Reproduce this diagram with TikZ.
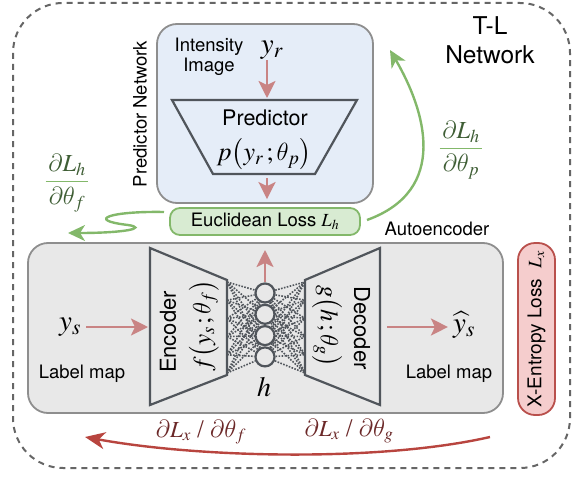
\documentclass[tikz,border=0pt]{standalone}
\usepackage{amsmath}
\usepackage{mathptmx}
\usepackage[no-math]{fontspec}
\setmainfont{TeX Gyre Heros}
\usepackage{xcolor}
\usetikzlibrary{arrows.meta}
\DeclareSymbolFont{cmletters}{OML}{cmm}{m}{it}
\DeclareMathSymbol{\itheta}{\mathord}{cmletters}{"12}
\DeclareMathSymbol{\ipartial}{\mathord}{cmletters}{"40}
\definecolor{predfill}{HTML}{E5EDF8}
\definecolor{boxline}{HTML}{8E8E8E}
\definecolor{trapline}{HTML}{50555B}
\definecolor{fwdarrow}{HTML}{C98484}
\definecolor{lossgreen}{HTML}{83B86A}
\definecolor{lossfill}{HTML}{D8EBD2}
\definecolor{gradgreen}{HTML}{3F5E35}
\definecolor{aefill}{HTML}{E8E8E8}
\definecolor{xentline}{HTML}{B9504C}
\definecolor{xentfill}{HTML}{F5CDCD}
\definecolor{gradred}{HTML}{B8453F}
\definecolor{gradtext}{HTML}{6B2828}
\definecolor{outerdash}{HTML}{666666}

\begin{document}
\begin{tikzpicture}[x=1pt, y=-1pt,
        % Define the styles for boxes, blocks and arrows
        rbox/.style={draw=boxline, line width=1.8pt, rounded corners=20pt, inner sep=0pt},
        trap/.style={draw=trapline, line width=2.2pt, line join=miter},
        outer/.style={draw=outerdash, line width=2pt, dash pattern=on 6pt off 5pt, rounded corners=50pt},
        fwd/.style={draw=fwdarrow, line width=2.4pt, -{Stealth[length=17pt, width=17pt, inset=4pt]}},
        grad/.style={draw=lossgreen, line width=2.4pt, -{Stealth[length=17pt, width=16pt, inset=5pt]}},
        back/.style={draw=gradred, line width=2.4pt, -{Stealth[length=20pt, width=17pt, inset=6pt]}},
        hunit/.style={circle, draw=trapline, line width=2.2pt, minimum size=19pt, inner sep=0pt, fill=aefill},
        link/.style={draw=trapline, line width=1.6pt, dash pattern=on 1.6pt off 1.4pt},
        lbl/.style={font=\fontsize{18.5}{20}\selectfont, align=center, inner sep=1pt},
        blk/.style={font=\fontsize{22}{24}\selectfont, inner sep=1pt},
        mth/.style={font=\fontsize{26}{28}\selectfont, inner sep=1pt},
        gradlab/.style={font=\fontsize{24.5}{26}\selectfont, inner sep=1pt},
        redlab/.style={font=\fontsize{23}{26}\selectfont, text=gradtext, inner sep=1pt}
    ]
        \useasboundingbox (0,0) rectangle (588,500);

        % --- Outer frame of the T-L network ---
        \draw[outer] (13,3) rectangle (570,468);
        \node[lbl, font=\fontsize{24.5}{29}\selectfont] (tlnet) at (490,40) {T-L\\Network};

        % --- Predictor network ---
        \node[rbox, fill=predfill, minimum width=216pt, minimum height=179pt] (pred) at (265,113.5) {};
        \node[lbl, rotate=90] (predname) at (140,114) {Predictor Network};
        \node[lbl] (intens) at (209,57) {Intensity\\Image};
        \node[mth, font=\fontsize{29}{30}\selectfont] (yr) at (272,50) {$y_r$};

        \coordinate (pTL) at (172,100);
        \coordinate (pTR) at (357,100);
        \coordinate (pBR) at (315,174);
        \coordinate (pBL) at (213,174);
        \draw[trap, fill=predfill] (pTL) -- (pTR) -- (pBR) -- (pBL) -- cycle;
        \node[blk, font=\fontsize{21.5}{24}\selectfont] (predtxt) at (265,118) {Predictor};
        \node[mth] (predfun) at (264,154) {$p\bigl(y_r\,;\itheta_p\bigr)$};

        \coordinate (pIn) at (267,98);
        \coordinate (pOut) at (267,178);
        \draw[fwd] (yr.south -| pIn) -- (pIn);

        % --- Euclidean loss between the two networks ---
        \node[rbox, draw=lossgreen, fill=lossfill, rounded corners=10pt, minimum width=190pt,
              minimum height=27pt, font=\fontsize{18.5}{20}\selectfont] (eucl) at (265,221.5) {Euclidean Loss $L_h$};
        \draw[fwd, shorten >=8pt] (pOut) -- (eucl.north -| pOut);

        % --- Autoencoder ---
        \node[rbox, fill=aefill, minimum width=475pt, minimum height=170pt] (ae) at (265.5,328) {};
        \node[lbl] (aelab) at (437,229) {Autoencoder};

        \coordinate (eTL) at (150,248);
        \coordinate (eTR) at (227,280);
        \coordinate (eBR) at (227,375);
        \coordinate (eBL) at (150,405);
        \draw[trap, fill=aefill] (eTL) -- (eTR) -- (eBR) -- (eBL) -- cycle;
        \node[blk, rotate=90] (encname) at (168,332) {Encoder};
        \node[mth, font=\fontsize{25}{26}\selectfont, rotate=90] (encfun) at (204,326) {$f\bigl(y_s\,;\itheta_f\bigr)$};

        \coordinate (dTL) at (305,280);
        \coordinate (dTR) at (380,248);
        \coordinate (dBR) at (380,405);
        \coordinate (dBL) at (305,375);
        \draw[trap, fill=aefill] (dTL) -- (dTR) -- (dBR) -- (dBL) -- cycle;
        \node[blk, rotate=-90] (decname) at (362,328) {Decoder};
        \node[mth, font=\fontsize{25}{26}\selectfont, rotate=-90] (decfun) at (327,326) {$g\bigl(h\,;\itheta_g\bigr)$};

        % hidden code h
        \foreach \i in {1,...,4}
            \node[hunit] (h\i) at (265,{293+21.3*(\i-1)}) {};
        \node[mth, font=\fontsize{28}{30}\selectfont] (hlab) at (264,387) {$h$};
        \foreach \k in {0,...,5} {
            \coordinate (eo\k) at (227,{282+18.2*\k});
            \coordinate (di\k) at (305,{282+18.2*\k});
        }
        \foreach \k in {0,...,5}
            \foreach \i in {1,...,4} {
                \draw[link] (eo\k) -- (h\i);
                \draw[link] (h\i) -- (di\k);
            }
        \coordinate (hUp) at (265,250);
        \draw[fwd] (h1.north) -- (hUp);

        % input and output label maps
        \node[mth, font=\fontsize{29}{30}\selectfont] (ys) at (70,327) {$y_s$};
        \node[lbl] (ysmap) at (82,374) {Label map};
        \coordinate (encIn) at (148,327);
        \draw[fwd, shorten <=4pt] (ys.east |- encIn) -- (encIn);

        \node[mth, font=\fontsize{29}{30}\selectfont] (yhat) at (464,325) {$\widehat{y}_s$};
        \node[lbl] (yhmap) at (449,374) {Label map};
        \coordinate (decOut) at (387,327);
        \draw[fwd, shorten >=4pt] (decOut) -- (yhat.west |- decOut);

        % --- Cross-entropy loss ---
        \node[rbox, draw=xentline, fill=xentfill, rounded corners=17pt, rotate=90, minimum width=172pt,
              minimum height=37pt, font=\fontsize{19}{20}\selectfont] (xent) at (536.5,329) {X-Entropy Loss\ \ $L_x$};

        % --- Gradients flowing back ---
        \coordinate (gfStart) at (164,212);
        \coordinate (gfTip) at (68,233);
        \draw[grad] (gfStart) .. controls (110,211) and (85,220) .. (128,225)
                              .. controls (148,228) and (125,233) .. (gfTip);
        \node[gradlab] (dLhf) at (67,183)
            {$\color{lossgreen}\dfrac{\color{gradgreen}\,\ipartial L_h\,}{\color{gradgreen}\,\ipartial\itheta_f\,}$};

        \coordinate (gpStart) at (367,220);
        \coordinate (gpTip) at (390,50);
        \draw[grad] (gpStart) .. controls (450,190) and (425,110) .. (gpTip);
        \node[gradlab] (dLhp) at (461,150)
            {$\color{lossgreen}\dfrac{\color{gradgreen}\,\ipartial L_h\,}{\color{gradgreen}\,\ipartial\itheta_p\,}$};

        \coordinate (xgStart) at (490,437);
        \coordinate (xgTip) at (85,437);
        \draw[back] (xgStart) .. controls (380,462) and (200,458) .. (xgTip);
        \node[redlab] (dLxf) at (201,432) {$\ipartial L_x$ / $\ipartial\itheta_f$};
        \node[redlab] (dLxg) at (349,431) {$\ipartial L_x$ / $\ipartial\itheta_g$};

    \end{tikzpicture}
\end{document}
